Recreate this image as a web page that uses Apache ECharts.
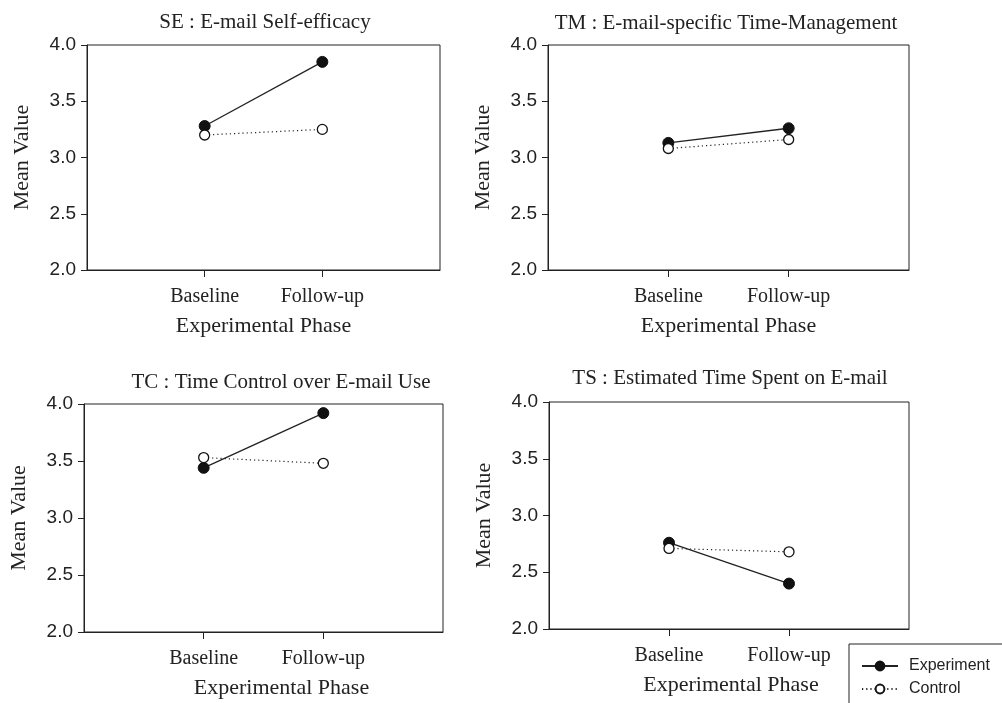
<!DOCTYPE html>
<html>
<head>
<meta charset="utf-8">
<script src="https://cdn.jsdelivr.net/npm/echarts@6/dist/echarts.min.js"></script>
<style>
  html, body { margin: 0; padding: 0; background: #fff; }
  #chart { width: 1002px; height: 703px; }
</style>
</head>
<body>
<div id="chart"></div>
<script>
const phases = ['Baseline', 'Follow-up']
const phasePos = [1, 2]
const panelTitles = [
  'SE : E-mail Self-efficacy',
  'TM : E-mail-specific Time-Management',
  'TC : Time Control over E-mail Use',
  'TS : Estimated Time Spent on E-mail'
]
const experimentValues = [
  [3.28, 3.85],
  [3.13, 3.26],
  [3.44, 3.92],
  [2.76, 2.40]
]
const controlValues = [
  [3.20, 3.25],
  [3.08, 3.16],
  [3.53, 3.48],
  [2.71, 2.68]
]
const yMin = 2.0
const yMax = 4.0
const yStep = 0.5

// plot boxes, in pixels
const boxes = [
  { left: 87, top: 45, width: 353, height: 225 },
  { left: 548, top: 45, width: 361, height: 225 },
  { left: 84, top: 404, width: 359, height: 228 },
  { left: 549, top: 402, width: 360, height: 227 }
]
const titlePos = [
  [265, 22],
  [726, 23],
  [281, 382],
  [730, 378]
]
const xNameShift = [0, 0, 36, 4]

const ink = '#222'
const serif = '"Liberation Serif", "DejaVu Serif", serif'
const sans = '"Liberation Sans", Arial, sans-serif'

const chart = echarts.init(document.getElementById('chart'))

const grids = []
const xAxes = []
const yAxes = []
const series = []
const graphics = []

boxes.forEach((b, i) => {
  grids.push({
    left: b.left,
    top: b.top,
    width: b.width,
    height: b.height,
    show: true,
    borderColor: ink,
    borderWidth: 1,
    backgroundColor: 'transparent'
  })
  xAxes.push({
    gridIndex: i,
    type: 'value',
    min: 0,
    max: 3,
    name: 'Experimental Phase',
    nameLocation: 'middle',
    nameGap: 45,
    nameTextStyle: {
      color: ink,
      fontFamily: serif,
      fontSize: 22,
      padding: [0, 0, 0, xNameShift[i]]
    },
    axisLine: { show: true, lineStyle: { color: ink, width: 1 } },
    axisTick: {
      show: true,
      length: 7,
      customValues: phasePos,
      lineStyle: { color: ink }
    },
    axisLabel: {
      customValues: phasePos,
      margin: 17,
      color: ink,
      fontFamily: serif,
      fontSize: 20,
      formatter: (v) => phases[phasePos.indexOf(v)] || ''
    },
    splitLine: { show: false }
  })
  yAxes.push({
    gridIndex: i,
    type: 'value',
    min: yMin,
    max: yMax,
    interval: yStep,
    name: 'Mean Value',
    nameLocation: 'middle',
    nameGap: 54,
    nameTextStyle: {
      color: ink,
      fontFamily: serif,
      fontSize: 22
    },
    axisLine: { show: true, lineStyle: { color: ink, width: 1 } },
    axisTick: { show: true, length: 6, lineStyle: { color: ink } },
    axisLabel: {
      margin: 11,
      color: ink,
      fontFamily: sans,
      fontSize: 19,
      formatter: (v) => v.toFixed(1)
    },
    splitLine: { show: false }
  })
  series.push({
    name: 'Experiment',
    type: 'line',
    xAxisIndex: i,
    yAxisIndex: i,
    data: phasePos.map((p, k) => [p, experimentValues[i][k]]),
    symbol: 'circle',
    symbolSize: 11,
    itemStyle: { color: '#111', borderColor: '#111', borderWidth: 1 },
    lineStyle: { color: ink, width: 1.3, type: 'solid' },
    emphasis: { disabled: true },
    animation: false
  })
  series.push({
    name: 'Control',
    type: 'line',
    xAxisIndex: i,
    yAxisIndex: i,
    data: phasePos.map((p, k) => [p, controlValues[i][k]]),
    symbol: 'circle',
    symbolSize: 10,
    itemStyle: { color: '#fff', borderColor: '#111', borderWidth: 1.3 },
    lineStyle: { color: ink, width: 1.2, type: [1.2, 3] },
    emphasis: { disabled: true },
    animation: false
  })
  graphics.push({
    type: 'text',
    x: titlePos[i][0],
    y: titlePos[i][1],
    style: {
      text: panelTitles[i],
      align: 'center',
      verticalAlign: 'middle',
      fill: ink,
      font: '21px ' + serif
    }
  })
})

const option = {
  backgroundColor: '#fff',
  animation: false,
  grid: grids,
  xAxis: xAxes,
  yAxis: yAxes,
  series,
  graphic: graphics,
  legend: {
    data: ['Experiment', 'Control'],
    orient: 'vertical',
    left: 849,
    top: 644,
    height: 70,
    padding: [14, 80, 24, 12],
    itemGap: 7,
    itemWidth: 36,
    itemHeight: 11,
    borderColor: ink,
    borderWidth: 1,
    selectedMode: false,
    textStyle: {
      color: ink,
      fontFamily: sans,
      fontSize: 16,
      padding: [0, 0, 0, 6]
    }
  }
}
chart.setOption(option)
</script>
</body>
</html>
